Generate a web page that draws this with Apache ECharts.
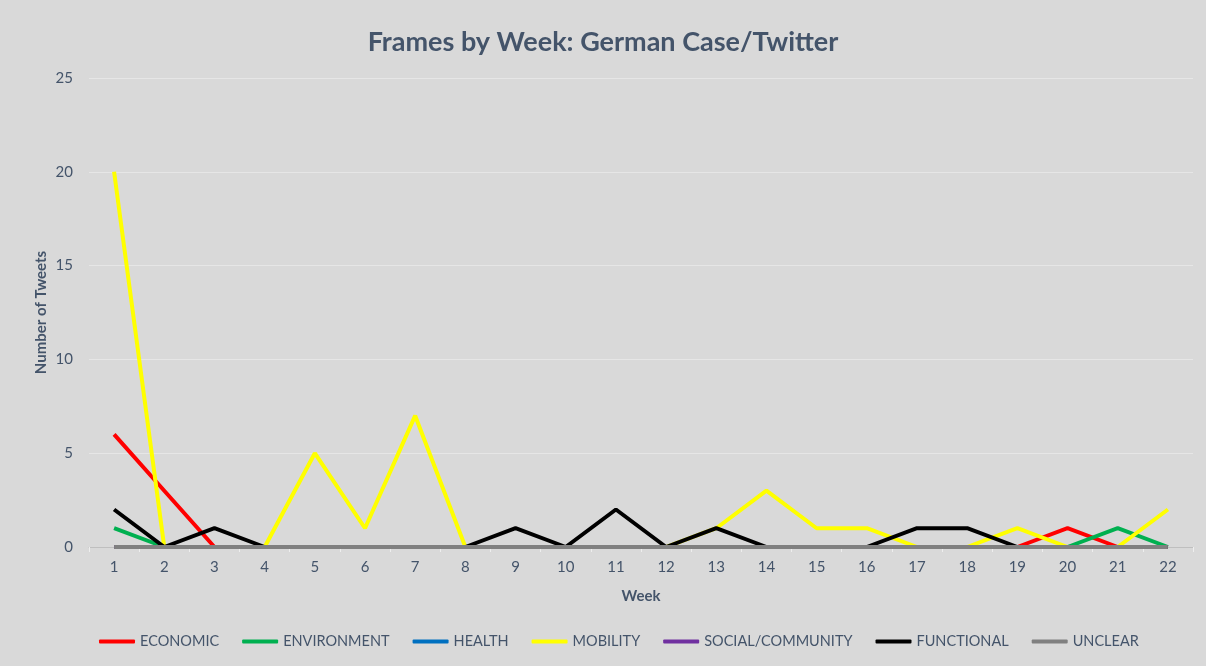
<!DOCTYPE html>
<html>
<head>
<meta charset="utf-8">
<script src="https://cdn.jsdelivr.net/npm/echarts@6/dist/echarts.min.js"></script>
<style>
  html, body { margin: 0; padding: 0; background: #d9d9d9; }
  #chart { width: 1206px; height: 666px; }
</style>
</head>
<body>
<div id="chart"></div>
<script>
const weeks = ["1","2","3","4","5","6","7","8","9","10","11","12","13","14","15","16","17","18","19","20","21","22"];

const economic    = [6,3,0,0,0,0,0,0,0,0,0,0,0,0,0,0,0,0,0,1,0,0];
const environment = [1,0,0,0,0,0,0,0,0,0,0,0,0,0,0,0,0,0,0,0,1,0];
const health      = [0,0,0,0,0,0,0,0,0,0,0,0,0,0,0,0,0,0,0,0,0,0];
const mobility    = [20,0,0,0,5,1,7,0,0,0,0,0,1,3,1,1,0,0,1,0,0,2];
const social      = [0,0,0,0,0,0,0,0,0,0,0,0,0,0,0,0,0,0,0,0,0,0];
const functional  = [2,0,1,0,0,0,0,0,1,0,2,0,1,0,0,0,1,1,0,0,0,0];
const unclear     = [0,0,0,0,0,0,0,0,0,0,0,0,0,0,0,0,0,0,0,0,0,0];

const textColor = "#44546a";
const font = "Lato, 'Open Sans', sans-serif";

function line(name, data, color) {
  return {
    name: name,
    type: "line",
    data: data,
    showSymbol: false,
    symbol: "none",
    lineStyle: { color: color, width: 4 },
    itemStyle: { color: color },
    emphasis: { disabled: true },
    animation: false
  };
}

const chart = echarts.init(document.getElementById("chart"));

const option = {
  backgroundColor: "#d9d9d9",
  textStyle: { fontFamily: font },
  title: {
    text: "Frames by Week: German Case/Twitter",
    left: "center",
    top: 24,
    textStyle: { color: textColor, fontSize: 27, fontWeight: "bold", fontFamily: font }
  },
  legend: {
    bottom: 12,
    left: 94,
    itemWidth: 36,
    itemHeight: 4,
    itemGap: 23,
    icon: "roundRect",
    textStyle: { color: textColor, fontSize: 14.5, fontFamily: font }
  },
  grid: { left: 89, right: 13, top: 78, bottom: 119 },
  xAxis: {
    type: "category",
    data: weeks,
    name: "Week",
    nameLocation: "middle",
    nameGap: 42,
    nameTextStyle: { color: textColor, fontSize: 15, fontWeight: "bold" },
    axisLine: { show: true, lineStyle: { color: "#bfbfbf", width: 1 } },
    axisTick: { show: true, length: 5, lineStyle: { color: "#eeeeee" } },
    axisLabel: { color: textColor, fontSize: 15, margin: 13 }
  },
  yAxis: {
    type: "value",
    min: 0,
    max: 25,
    interval: 5,
    name: "Number of Tweets",
    nameLocation: "middle",
    nameGap: 40,
    nameMoveOverlap: false,
    nameTextStyle: { color: textColor, fontSize: 15, fontWeight: "bold" },
    axisLine: { show: false },
    axisTick: { show: false },
    axisLabel: { color: textColor, fontSize: 15, margin: 16 },
    splitLine: { lineStyle: { color: "#e6e6e6", width: 1 } }
  },
  series: [
    line("ECONOMIC", economic, "#ff0000"),
    line("ENVIRONMENT", environment, "#00b050"),
    line("HEALTH", health, "#0070c0"),
    line("MOBILITY", mobility, "#ffff00"),
    line("SOCIAL/COMMUNITY", social, "#7030a0"),
    line("FUNCTIONAL", functional, "#000000"),
    line("UNCLEAR", unclear, "#808080")
  ]
};

chart.setOption(option);
</script>
</body>
</html>
